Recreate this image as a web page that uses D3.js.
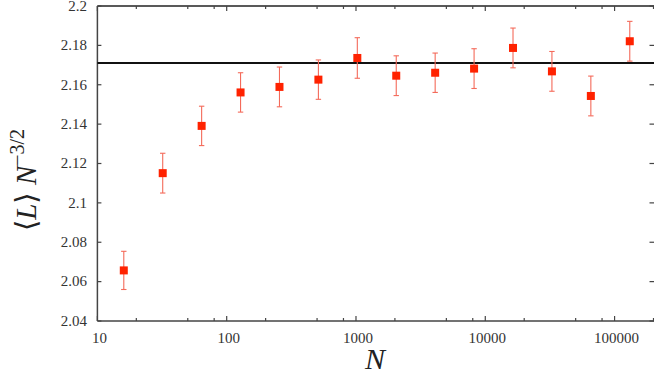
<!DOCTYPE html>
<html><head><meta charset="utf-8">
<script src="https://cdn.jsdelivr.net/npm/d3@7"></script>
<style>body{margin:0;background:#fff}svg{display:block}
text{font-family:"Liberation Serif","Times New Roman","DejaVu Serif",serif}</style>
</head><body>
<svg id="c" width="654" height="372"></svg>
<script>
const Ns = [16,32,64,128,256,512,1024,2048,4096,8192,16384,32768,65536,131072];
const values = [2.0657,2.1151,2.1391,2.1561,2.1589,2.1626,2.1736,2.1646,2.1661,2.1682,2.1787,2.1668,2.1543,2.1821];
const errors = [0.0097,0.0101,0.0100,0.0100,0.0101,0.0100,0.0103,0.0101,0.0100,0.0101,0.0101,0.0101,0.0101,0.0101];
const refLine = 2.171;
const yTicks = [2.04,2.06,2.08,2.1,2.12,2.14,2.16,2.18,2.2];
const xTicks = [10,100,1000,10000,100000];
const xMinor = [20,50,80,200,500,800,2000,5000,8000,20000,50000,80000,200000];

const svg = d3.select("#c");
const L=97.4, R=653.5, T=6, B=321;
const x = d3.scaleLog().domain([10,200000]).range([L,R]);
const y = d3.scaleLinear().domain([2.04,2.2]).range([B,T]);
const axisCol="#444", txtCol="#333";

// frame
svg.append("line").attr("x1",L).attr("x2",L).attr("y1",T).attr("y2",B).attr("stroke",axisCol).attr("stroke-width",1.5);
svg.append("line").attr("x1",L).attr("x2",655).attr("y1",B).attr("y2",B).attr("stroke",axisCol).attr("stroke-width",1.5);
svg.append("line").attr("x1",L).attr("x2",655).attr("y1",T).attr("y2",T).attr("stroke","#222").attr("stroke-width",1.5);

// y ticks
yTicks.forEach(v=>{
  const yy=y(v);
  svg.append("line").attr("x1",L).attr("x2",L+4).attr("y1",yy).attr("y2",yy).attr("stroke",axisCol).attr("stroke-width",1.2);
  svg.append("line").attr("x1",R-4).attr("x2",R+1).attr("y1",yy).attr("y2",yy).attr("stroke",axisCol).attr("stroke-width",1.2);
  svg.append("text").attr("x",87).attr("y",yy+4.8).attr("text-anchor","end")
    .attr("font-size",15).attr("fill",txtCol).text(d3.format("")(v));
});
// x ticks
xTicks.forEach(v=>{
  const xx=x(v);
  svg.append("line").attr("x1",xx).attr("x2",xx).attr("y1",B).attr("y2",B-5).attr("stroke",axisCol).attr("stroke-width",1.2);
  svg.append("line").attr("x1",xx).attr("x2",xx).attr("y1",T).attr("y2",T+5).attr("stroke",axisCol).attr("stroke-width",1.2);
  svg.append("text").attr("x",xx+2).attr("y",343).attr("text-anchor","middle")
    .attr("font-size",15).attr("fill",txtCol).text(v);
});
xMinor.forEach(v=>{
  const xx=x(v);
  svg.append("line").attr("x1",xx).attr("x2",xx).attr("y1",B).attr("y2",B-3).attr("stroke",axisCol).attr("stroke-width",1.2);
  svg.append("line").attr("x1",xx).attr("x2",xx).attr("y1",T).attr("y2",T+3).attr("stroke",axisCol).attr("stroke-width",1.2);
});

// reference line
svg.append("line").attr("x1",L).attr("x2",655).attr("y1",y(refLine)).attr("y2",y(refLine)).attr("stroke","#111").attr("stroke-width",2);

// error bars
const eb = svg.append("g").attr("stroke","#f46a5a").attr("stroke-width",1.1);
Ns.forEach((n,i)=>{
  const xx=x(n), y1=y(values[i]+errors[i]), y2=y(values[i]-errors[i]);
  eb.append("line").attr("x1",xx).attr("x2",xx).attr("y1",y1).attr("y2",y2);
  eb.append("line").attr("x1",xx-2.7).attr("x2",xx+2.7).attr("y1",y1).attr("y2",y1);
  eb.append("line").attr("x1",xx-2.7).attr("x2",xx+2.7).attr("y1",y2).attr("y2",y2);
});
// markers
svg.append("g").selectAll("rect").data(Ns).join("rect")
  .attr("x",d=>x(d)-4).attr("y",(d,i)=>y(values[i])-4).attr("width",8).attr("height",8)
  .attr("fill","#ff2200");

// axis labels
svg.append("text").attr("x",375).attr("y",369).attr("text-anchor","middle")
  .attr("font-size",30).attr("font-style","italic").attr("fill","#222").text("N");
const yl = svg.append("text").attr("transform","translate(36,180) rotate(-90)").attr("text-anchor","middle")
  .attr("font-size",29).attr("fill","#222");
yl.append("tspan").text("\u27E8");
yl.append("tspan").attr("font-style","italic").text("L");
yl.append("tspan").text("\u27E9 ");
yl.append("tspan").attr("font-style","italic").text("N");
yl.append("tspan").attr("font-size",20).attr("dy",-12).text("\u22123/2");
</script>
</body></html>
